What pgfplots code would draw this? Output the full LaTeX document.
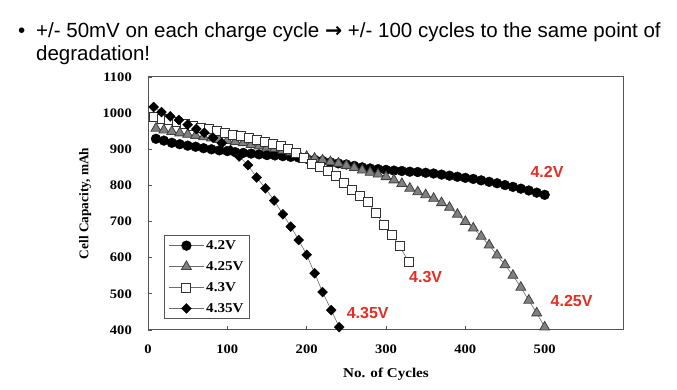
\documentclass[border=0pt]{standalone}
\usepackage{pgfplots}
\pgfplotsset{compat=1.18}
\usepackage{pgfplotstable}
\usepackage{fontspec}
\setmainfont{Liberation Serif}
\newfontfamily\arial{Liberation Sans}
\newfontfamily\dejavu{DejaVu Sans}
\newfontfamily\tnr[FakeStretch=1.12]{Liberation Serif}
\definecolor{lbl}{RGB}{228,45,35}
\definecolor{axgray}{RGB}{85,85,85}

\pgfplotstableread{
x y
10 929
20 924
30 918
40 914
50 910
60 907
70 903
80 900
90 897
100 895
110 892
120 890
130 888
140 886
150 884
160 883
170 881
180 879
190 877
200 874
210 871
220 868
230 864
240 861
250 858
260 854
270 850
280 847
290 845
300 843
310 841
320 840
330 838
340 837
350 835
360 833
370 830
380 827
390 824
400 821
410 818
420 814
430 810
440 806
450 801
460 796
470 791
480 786
490 780
500 774
}\dataA

\pgfplotstableread{
x y
10 958
20 953
30 949
40 945
50 941
60 938
70 934
80 931
90 927
100 924
110 921
120 918
130 913
140 909
150 905
160 902
170 897
180 892
190 886
200 880
210 875
220 870
230 865
240 861
250 855
260 849
270 842
280 836
290 831
300 824
310 815
320 805
330 792
340 782
350 774
360 764
370 752
380 739
390 720
400 700
410 682
420 659
430 635
440 607
450 580
460 551
470 518
480 482
490 447
500 408
}\dataB

\pgfplotstableread{
x y
7 990
17 985
27 980
37 976
47 970
57 965
67 959
77 955
87 950
97 946
107 941
117 936
127 931
137 927
147 921
157 916
167 908
177 900
187 890
197 876
207 860
217 850
227 840
237 826
247 807
257 788
267 771
277 753
287 725
297 692
307 663
317 632
329 588
}\dataC

\pgfplotstableread{
x y
7 1017
17 1003
28 991
39 981
50 968
61 956
71 946
82 932
93 917
104 898
115 880
126 856
137 822
148 792
159 758
170 720
180 686
190 649
200 608
210 557
220 505
231 455
241 408
}\dataD

\begin{document}
\begin{tikzpicture}[x=1pt,y=1pt]
\useasboundingbox (0pt,0pt) rectangle (677pt,390pt);
\node[anchor=base west, inner sep=0, font=\arial\fontsize{20.5}{24}\selectfont] at (18pt,352.3pt) {•};
\node[anchor=base west, inner sep=0, font=\arial\fontsize{20.5}{24}\selectfont] at (36pt,352.3pt) {+/- 50mV on each charge cycle {\dejavu\bfseries →} +/- 100 cycles to the same point of};
\node[anchor=base west, inner sep=0, font=\arial\fontsize{20.5}{24}\selectfont] at (36pt,329pt) {degradation!};

\begin{axis}[
  at={(148pt,60pt)}, anchor=south west,
  scale only axis, width=476pt, height=253pt,
  xmin=0, xmax=600, ymin=400, ymax=1100,
  xtick={0,100,...,500}, ytick={400,500,...,1100},
  tick pos=left, tick align=inside, major tick length=4pt,
  axis line style={axgray, line width=1pt},
  tick style={axgray, line width=0.8pt},
  /pgf/number format/assume math mode=true,
  /pgf/number format/1000 sep={},
  tick label style={font=\tnr\bfseries\fontsize{13}{13}\selectfont},
  yticklabel style={inner sep=0pt, xshift=-16pt},
  xticklabel style={inner sep=0pt, yshift=-15pt},
  xlabel={No. of Cycles},
  ylabel={Cell Capacity, mAh},
  xlabel style={at={(axis description cs:0.5,-0.174)}, anchor=center, inner sep=0pt, font=\tnr\bfseries\fontsize{13.5}{13.5}\selectfont},
  ylabel style={at={(axis description cs:-0.132,0.5)}, anchor=center, inner sep=0pt, font=\bfseries\fontsize{13.3}{13.3}\selectfont},
  legend style={at={(axis description cs:0.034,0.043)}, anchor=south west,
    draw=axgray, line width=0.9pt, inner xsep=4pt, inner ysep=3pt,
    font=\tnr\bfseries\fontsize{13.5}{13.5}\selectfont, row sep=6.5pt},
  legend cell align=left,
  legend image code/.code={\draw[mark repeat=2,mark phase=2] plot coordinates {(0pt,0pt)(17.5pt,0pt)(35pt,0pt)};},
]
\addplot[color=gray!85!black, line width=0.6pt, mark=*, mark size=4.9pt, mark options={fill=black, draw=black, line width=0.4pt}] table {\dataA};
\addlegendentry{4.2V}
\addplot[color=gray!85!black, line width=0.6pt, mark=triangle*, mark size=5.7pt, mark options={fill=gray, draw=black!75, line width=0.8pt}] table {\dataB};
\addlegendentry{4.25V}
\addplot[color=gray!85!black, line width=0.6pt, mark=square*, mark size=4.5pt, mark options={fill=white, draw=black!80, line width=0.9pt}] table {\dataC};
\addlegendentry{4.3V}
\addplot[color=gray!85!black, line width=0.6pt, mark=square*, mark size=3.5pt, mark options={rotate=45, fill=black, draw=black, line width=0.4pt}] table {\dataD};
\addlegendentry{4.35V}
\node[font=\arial\bfseries\fontsize{16}{16}\selectfont, text=lbl] at (axis cs:503,837) {4.2V};
\node[font=\arial\bfseries\fontsize{16}{16}\selectfont, text=lbl] at (axis cs:350,547) {4.3V};
\node[font=\arial\bfseries\fontsize{16}{16}\selectfont, text=lbl] at (axis cs:277,447) {4.35V};
\node[font=\arial\bfseries\fontsize{16}{16}\selectfont, text=lbl] at (axis cs:534,480) {4.25V};
\end{axis}
\end{tikzpicture}
\end{document}
